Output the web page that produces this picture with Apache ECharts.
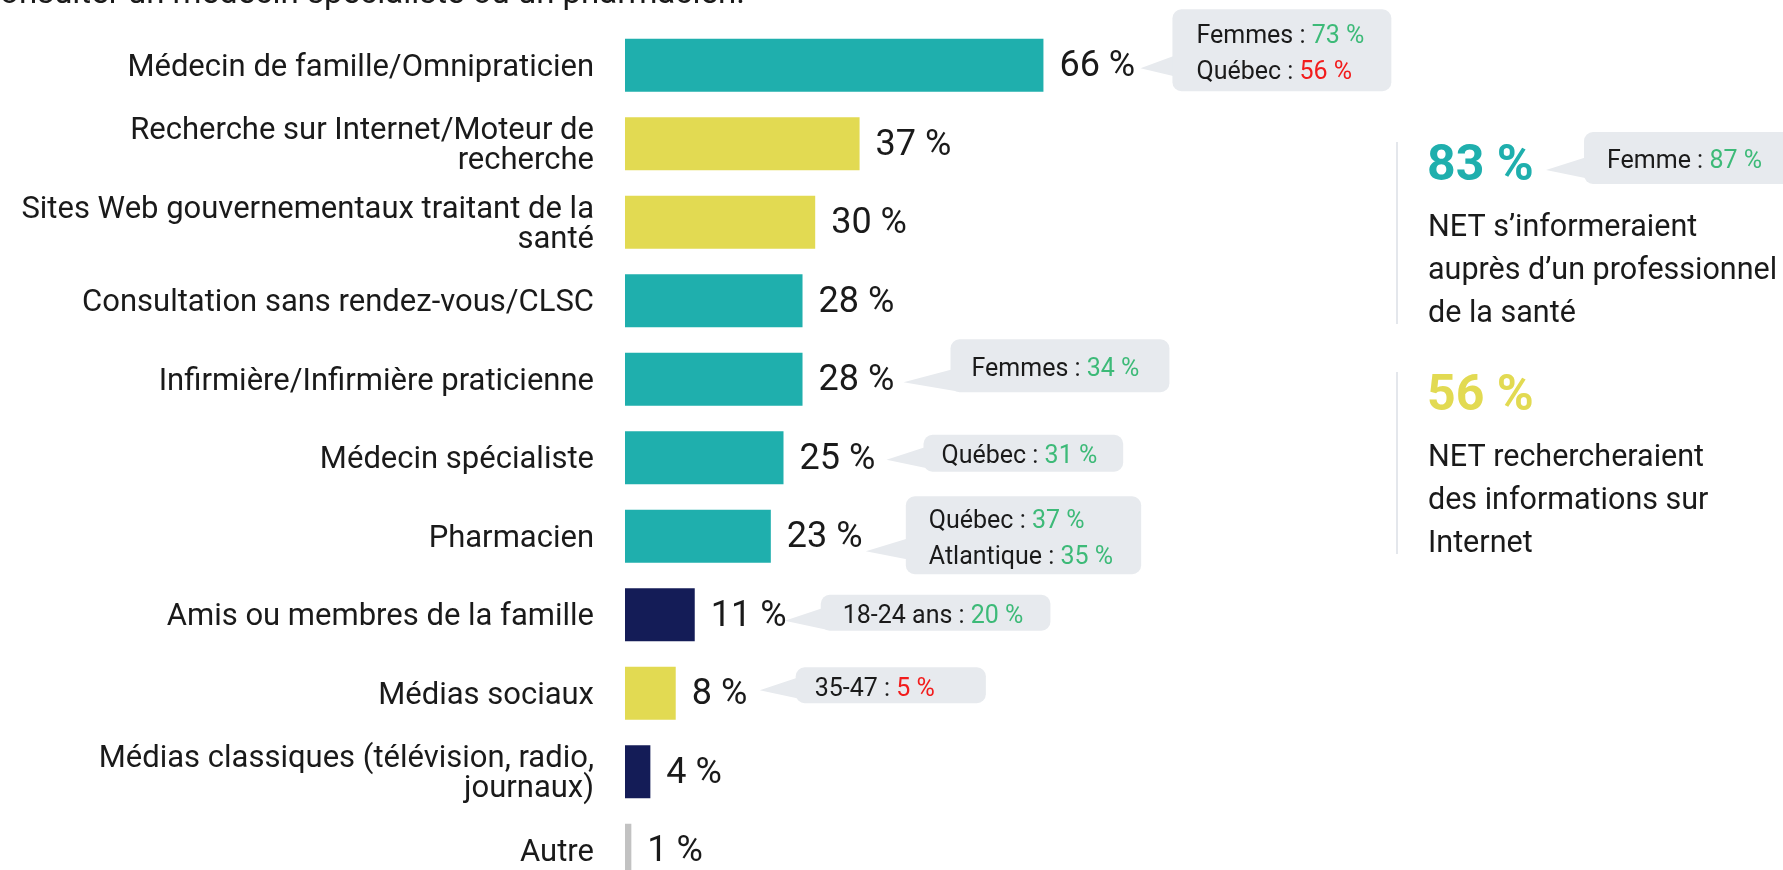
<!DOCTYPE html>
<html lang="fr">
<head>
<meta charset="utf-8">
<title>Sources d'information en santé</title>
<script src="https://cdn.jsdelivr.net/npm/echarts@6/dist/echarts.min.js"></script>
<style>
  html, body { margin: 0; padding: 0; background: #fff; }
  #chart { width: 1783px; height: 870px; }
</style>
</head>
<body>
<div id="chart"></div>
<script>
// --- données ---
const categories = [
  'Médecin de famille/Omnipraticien',
  'Recherche sur Internet/Moteur de\nrecherche',
  'Sites Web gouvernementaux traitant de la\nsanté',
  'Consultation sans rendez-vous/CLSC',
  'Infirmière/Infirmière praticienne',
  'Médecin spécialiste',
  'Pharmacien',
  'Amis ou membres de la famille',
  'Médias sociaux',
  'Médias classiques (télévision, radio,\njournaux)',
  'Autre'
]
const values = [66, 37, 30, 28, 28, 25, 23, 11, 8, 4, 1]
const kinds = ['pro', 'web', 'web', 'pro', 'pro', 'pro', 'pro', 'proches', 'web', 'medias', 'autre']

// sous-groupes : [catégorie, groupe, valeur]
const subgroups = [
  [0, 'Femmes', 73],
  [0, 'Québec', 56],
  [4, 'Femmes', 34],
  [5, 'Québec', 31],
  [6, 'Québec', 37],
  [6, 'Atlantique', 35],
  [7, '18-24 ans', 20],
  [8, '35-47', 5]
]

const statValues = [83, 56]
const statKinds = ['pro', 'web']
const statTexts = [
  'NET s’informeraient\nauprès d’un professionnel\nde la santé',
  'NET rechercheraient\ndes informations sur\nInternet'
]
const statSubgroup = [0, 'Femme', 87]

const titleText = 'consulter un médecin spécialiste ou un pharmacien.'

// --- styles ---
const palette = {
  pro: '#1fafad',
  web: '#e2da52',
  proches: '#141c57',
  medias: '#141c57',
  autre: '#c2c2c2'
}
const FONT = 'Roboto, "Noto Sans", sans-serif'
const TEXT = '#1a1a1a'
const UP = '#3dba78'
const DOWN = '#f21c1c'
const BUBBLE = '#e7eaee'
const BUBBLE_FS = 25
const BUBBLE_LH = 36

// position des bulles par rapport au bout de la barre
// pad : [haut, droite, bas, gauche]
const bubbleLayout = {
  0: { dx: 129, dy: -56, tipDx: 97, tipDy: 3, pad: [5, 27, 5, 24] },
  4: { dx: 148, dy: -40, tipDx: 101, tipDy: 3, pad: [8, 30, 9, 21] },
  5: { dx: 140, dy: -23, tipDx: 103, tipDy: 2, pad: [0, 26, 1, 18] },
  6: { dx: 135, dy: -40, tipDx: 95, tipDy: 15, pad: [3, 28, 3, 23] },
  7: { dx: 126, dy: -20, tipDx: 90, tipDy: 6, pad: [0, 27, 0, 22] },
  8: { dx: 120, dy: -26, tipDx: 84, tipDy: -3, pad: [0, 51, 0, 19] }
}

const chart = echarts.init(document.getElementById('chart'))

chart.setOption({
  animation: false,
  grid: { left: 625, top: 26, width: 634, height: 863.5, outerBoundsMode: 'none' },
  xAxis: { type: 'value', min: 0, max: 100, show: false },
  yAxis: {
    type: 'category',
    inverse: true,
    data: categories,
    axisLine: { show: false },
    axisTick: { show: false },
    axisLabel: {
      margin: 31,
      fontFamily: FONT,
      fontSize: 31,
      lineHeight: 35,
      color: TEXT,
      formatter: v => v.split('\n').map(s => '{l|' + s + '}').join('\n'),
      rich: {
        l: { fontFamily: FONT, fontSize: 31, height: 30, lineHeight: 30, padding: [5, 0, 0, 0], color: TEXT, align: 'right' }
      }
    }
  },
  series: [{
    type: 'bar',
    barWidth: 53,
    data: values.map((v, i) => ({ value: v, itemStyle: { color: palette[kinds[i]] } })),
    label: {
      show: true,
      position: 'right',
      distance: 16,
      offset: [0, 2],
      formatter: '{c} %',
      fontFamily: FONT,
      fontSize: 36,
      color: TEXT
    }
  }]
})

const measure = document.createElement('canvas').getContext('2d')
measure.font = BUBBLE_FS + 'px Roboto'

function bubble(left, top, tip, lines, overall, pad) {
  const texts = lines.map(([name, v]) => name + ' : ' + v + ' %')
  const w = Math.max(...texts.map(t => measure.measureText(t).width)) + pad[1] + pad[3]
  const h = lines.length * BUBBLE_LH + pad[0] + pad[2]
  const y1 = Math.max(top + 3, tip[1] - 14)
  const y2 = Math.min(top + h, tip[1] + 9)
  const tok = color => ({ fill: color, fontFamily: FONT, fontSize: BUBBLE_FS, lineHeight: BUBBLE_LH })
  const rich = lines.map(([name, v]) => '{k|' + name + ' : }{' + (v >= overall ? 'up' : 'down') + '|' + v + ' %}').join('\n')
  return [
    { type: 'polygon', shape: { points: [tip, [left + 6, y1], [left + 6, y2]] }, style: { fill: BUBBLE } },
    { type: 'rect', shape: { x: left, y: top, width: w, height: h, r: 9 }, style: { fill: BUBBLE } },
    {
      type: 'text', x: left + pad[3], y: top + pad[0] + 4,
      style: {
        text: rich,
        rich: { k: tok(TEXT), up: tok(UP), down: tok(DOWN) },
        fontFamily: FONT, fontSize: BUBBLE_FS, lineHeight: BUBBLE_LH,
        align: 'left', verticalAlign: 'top'
      }
    }
  ]
}

const graphics = []

// bulles à côté des barres
Object.keys(bubbleLayout).forEach(key => {
  const cat = +key
  const L = bubbleLayout[cat]
  const lines = subgroups.filter(s => s[0] === cat).map(s => [s[1], s[2]])
  const [x, y] = chart.convertToPixel({ gridIndex: 0 }, [values[cat], cat])
  graphics.push(...bubble(x + L.dx, y + L.dy, [x + L.tipDx, y + L.tipDy], lines, values[cat], L.pad))
})

// titre coupé en haut
graphics.push({
  type: 'text', x: 745, y: -5,
  style: { text: titleText, fontFamily: FONT, fontSize: 33, fill: TEXT, align: 'right', verticalAlign: 'middle' }
})

// panneau de droite
const statTops = [142, 372]
statValues.forEach((v, i) => {
  const top = statTops[i]
  graphics.push(
    { type: 'rect', shape: { x: 1396, y: top, width: 2, height: 182 }, style: { fill: '#e4e7ec' } },
    {
      type: 'text', x: 1427, y: top + 25,
      style: { text: v + ' %', fontFamily: FONT, fontSize: 50, fontWeight: 'bold', fill: palette[statKinds[i]], align: 'left', verticalAlign: 'middle' }
    },
    {
      type: 'text', x: 1428, y: top + 65,
      style: { text: statTexts[i], fontFamily: FONT, fontSize: 30.5, lineHeight: 43, fill: TEXT, align: 'left', verticalAlign: 'top' }
    }
  )
})
graphics.push(...bubble(1584, 132, [1546, 170], [[statSubgroup[1], statSubgroup[2]]], statValues[statSubgroup[0]], [8, 60, 8, 23]))

chart.setOption({ graphic: graphics })
</script>
</body>
</html>
